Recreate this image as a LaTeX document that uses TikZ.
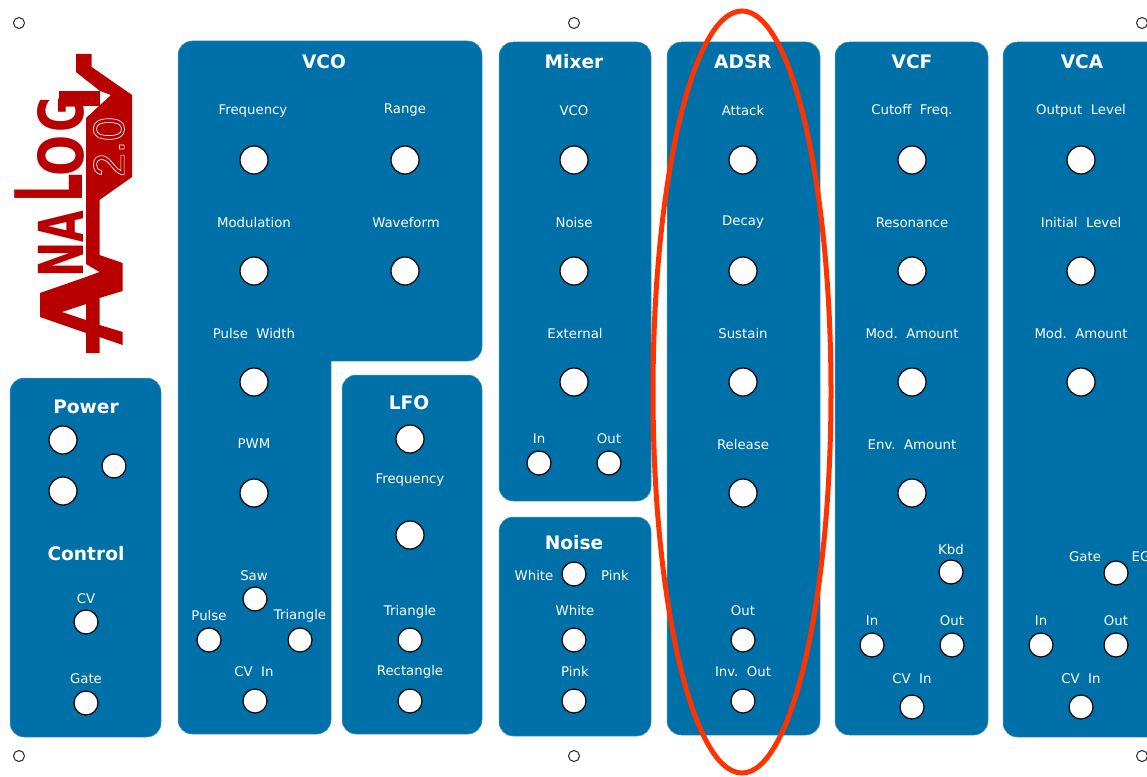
\documentclass[tikz,border=0pt]{standalone}
\usepackage{fontspec}
\setmainfont{DejaVu Sans}
\newfontfamily\logofont{Liberation Sans}
\definecolor{panelblue}{HTML}{0070A9}
\definecolor{logored}{HTML}{B80000}
\definecolor{ringred}{HTML}{FF3300}
\tikzset{
  panel/.style={fill=panelblue,draw=panelblue!70!white,line width=0.5pt,rounded corners=14pt},
  big/.style={circle,draw=black,fill=white,line width=1.2pt,minimum size=28pt,inner sep=0pt},
  mid/.style={circle,draw=black,fill=white,line width=1.2pt,minimum size=24pt,inner sep=0pt},
  hole/.style={circle,draw=black!85,fill=white,line width=1pt,minimum size=11pt,inner sep=0pt},
  lab/.style={text=white,font=\fontsize{13.3}{15}\selectfont,inner sep=0pt,yshift=-0.5pt},
  ttl/.style={text=white,font=\fontsize{18.6}{20}\selectfont\bfseries,inner sep=0pt},
  logoletter/.style={text=logored,font=\fontsize{62}{62}\selectfont\bfseries,inner sep=0pt,rotate=90},
}
\begin{document}
\begin{tikzpicture}[x=1pt,y=-1pt]
\useasboundingbox (0,0) rectangle (1147,776);
\clip (0,0) rectangle (1147,776);
% panels
\draw[panel] (10,378) rectangle (161,737);
\draw[panel] (178,300) -- (178,41) -- (482,41) -- (482,361) -- (420,361) [sharp corners] -- (331,361) -- (331,500) [rounded corners=14pt] -- (331,734) -- (178,734) -- cycle;
\draw[panel] (342,375) rectangle (482,734);
\draw[panel] (499,42) rectangle (651,501);
\draw[panel] (499,517) rectangle (651,736);
\draw[panel] (667,42) rectangle (820,735);
\draw[panel] (835,42) rectangle (988,735);
\draw[panel] (1003,42) rectangle (1180,737);
% logo
\fill[logored,even odd rule]
  (76,54) -- (91.7,54) -- (91.7,67) -- (132,95) -- (132,177) -- (99.5,200) -- (99.5,255) -- (122.7,263) -- (122.7,291) -- (99.5,298) -- (99.5,325) -- (122.7,332) -- (122.7,345) -- (99.5,337) -- (99.5,353) -- (86,353) -- (86,333) -- (40,317) -- (40,293) -- (86,277) -- (99.5,272) -- (86,264) -- (86,118) -- (111,95) -- (100,91) -- (76,72) -- cycle
  (62,312) -- (86,304) -- (86,320) -- cycle;
\node[logoletter,xscale=.68] (logoN) at (60.5,260) {N};
\node[logoletter,xscale=.66] (logoA) at (60.5,226.5) {A};
\node[logoletter,yscale=1.5,xscale=.72] (logoL) at (49,188) {L};
\node[logoletter,xscale=.78] (logoO) at (60.5,155.5) {O};
\node[logoletter,xscale=.72] (logoG) at (60.5,114) {G};
\fill[logored] (59,91) rectangle (100,106);
\node[rotate=90,xscale=.98,text=white,font=\fontsize{44}{44}\selectfont\logofont,inner sep=0pt] (logoV) at (109,147) {\special{pdf:code q 1 Tr 0.7 w 1 1 1 RG}2.0\special{pdf:code Q}};
% corner holes
\node[hole] (h1) at (19,23) {};
\node[hole] (h2) at (574,23) {};
\node[hole] (h3) at (1142,23) {};
\node[hole] (h4) at (19,756) {};
\node[hole] (h5) at (574,756) {};
\node[hole] (h6) at (1142,756) {};
% power / control
\node[ttl] (tPower) at (86,407) {Power};
\node[ttl] (tControl) at (86,554) {Control};
\node[big] (p1) at (63,440) {};
\node[big] (p2) at (63,491) {};
\node[mid] (p3) at (114,466) {};
\node[lab] (lCV) at (86,598) {CV};
\node[mid] (kCV) at (86,622) {};
\node[lab] (lGate) at (86,678) {Gate};
\node[mid] (kGate) at (86,703) {};
% VCO
\node[ttl] (tVCO) at (324,62) {VCO};
\node[lab] (l1) at (253,111) {Frequency};
\node[lab] (l2) at (405,110) {Range};
\node[lab] (l3) at (254,222) {Modulation};
\node[lab] (l4) at (406,222) {Waveform};
\node[lab] (l5) at (254,333) {Pulse\ \ Width};
\node[lab] (l6) at (254,443) {PWM};
\node[lab] (l7) at (254,575) {Saw};
\node[lab] (l8) at (209,615) {Pulse};
\node[lab] (l9) at (300,615) {Triangle};
\node[lab] (l10) at (254,671) {CV\ \ In};
\node[big] (k1) at (254,160) {};
\node[big] (k2) at (405,160) {};
\node[big] (k3) at (254,271) {};
\node[big] (k4) at (405,271) {};
\node[big] (k5) at (254,382) {};
\node[big] (k6) at (254,493) {};
\node[mid] (k7) at (255,599) {};
\node[mid] (k8) at (209,640) {};
\node[mid] (k9) at (300,640) {};
\node[mid] (k10) at (255,701) {};
% LFO
\node[ttl] (tLFO) at (409,403) {LFO};
\node[big] (f1) at (410,439) {};
\node[lab] (f2) at (410,480) {Frequency};
\node[big] (f3) at (410,535) {};
\node[lab] (f4) at (410,611) {Triangle};
\node[mid] (f5) at (410,640) {};
\node[lab] (f6) at (410,671) {Rectangle};
\node[mid] (f7) at (410,701) {};
% Mixer
\node[ttl] (tMixer) at (574,62) {Mixer};
\node[lab] (m1) at (574,110) {VCO};
\node[big] (m2) at (574,160) {};
\node[lab] (m3) at (574,222) {Noise};
\node[big] (m4) at (574,271) {};
\node[lab] (m5) at (575,333) {External};
\node[big] (m6) at (574,382) {};
\node[lab] (m7) at (539,438) {In};
\node[lab] (m8) at (609,438) {Out};
\node[mid] (m9) at (539,463) {};
\node[mid] (m10) at (609,463) {};
% Noise
\node[ttl] (tNoise) at (574,543) {Noise};
\node[lab] (n1) at (534,575) {White};
\node[lab] (n2) at (615,575) {Pink};
\node[mid] (n3) at (574,574) {};
\node[lab] (n4) at (575,610) {White};
\node[mid] (n5) at (574,640) {};
\node[lab] (n6) at (575,671) {Pink};
\node[mid] (n7) at (574,701) {};
% ADSR
\node[ttl] (tADSR) at (743,62) {ADSR};
\node[lab] (a1) at (743,110) {Attack};
\node[big] (a2) at (743,160) {};
\node[lab] (a3) at (743,222) {Decay};
\node[big] (a4) at (743,271) {};
\node[lab] (a5) at (743,333) {Sustain};
\node[big] (a6) at (743,382) {};
\node[lab] (a7) at (743,444) {Release};
\node[big] (a8) at (743,493) {};
\node[lab] (a9) at (743,610) {Out};
\node[mid] (a10) at (743,640) {};
\node[lab] (a11) at (743,671) {Inv.\ \ Out};
\node[mid] (a12) at (743,701) {};
% VCF
\node[ttl] (tVCF) at (912,62) {VCF};
\node[lab] (c1) at (912,110) {Cutoff\ \ Freq.};
\node[big] (c2) at (912,160) {};
\node[lab] (c3) at (912,222) {Resonance};
\node[big] (c4) at (912,271) {};
\node[lab] (c5) at (912,333) {Mod.\ \ Amount};
\node[big] (c6) at (912,382) {};
\node[lab] (c7) at (912,444) {Env.\ \ Amount};
\node[big] (c8) at (912,493) {};
\node[lab] (c9) at (951,549) {Kbd};
\node[mid] (c10) at (951,572) {};
\node[lab] (c11) at (872,620) {In};
\node[lab] (c12) at (952,620) {Out};
\node[mid] (c13) at (872,645) {};
\node[mid] (c14) at (952,645) {};
\node[lab] (c15) at (912,678) {CV\ \ In};
\node[mid] (c16) at (912,707) {};
% VCA
\node[ttl] (tVCA) at (1082,62) {VCA};
\node[lab] (v1) at (1081,110) {Output\ \ Level};
\node[big] (v2) at (1081,160) {};
\node[lab] (v3) at (1081,222) {Initial\ \ Level};
\node[big] (v4) at (1081,271) {};
\node[lab] (v5) at (1081,333) {Mod.\ \ Amount};
\node[big] (v6) at (1081,382) {};
\node[lab] (v7) at (1085,556) {Gate};
\node[lab] (v8) at (1141,556) {EG};
\node[mid] (v9) at (1116,573) {};
\node[lab] (v10) at (1041,620) {In};
\node[lab] (v11) at (1116,620) {Out};
\node[mid] (v12) at (1041,645) {};
\node[mid] (v13) at (1116,645) {};
\node[lab] (v14) at (1081,678) {CV\ \ In};
\node[mid] (v15) at (1081,707) {};
% highlight ring
\draw[ringred,line width=5pt] (742,392) ellipse [x radius=89,y radius=381];
\end{tikzpicture}
\end{document}
